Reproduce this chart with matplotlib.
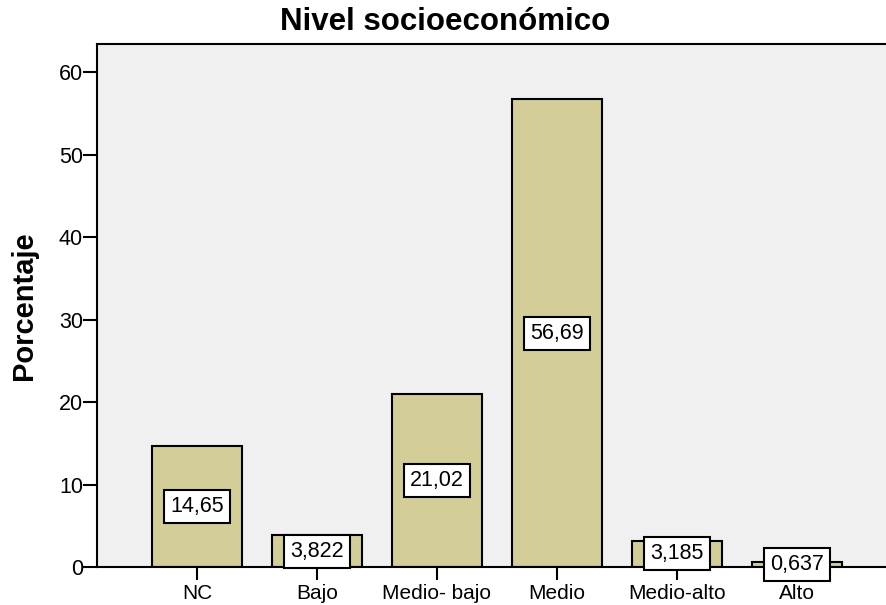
import matplotlib.pyplot as plt

plt.rcParams['font.family'] = ['Liberation Sans', 'DejaVu Sans']

categorias = ["NC", "Bajo", "Medio- bajo", "Medio", "Medio-alto", "Alto"]
porcentajes = [14.65, 3.822, 21.02, 56.69, 3.185, 0.637]
etiquetas = ["14,65", "3,822", "21,02", "56,69", "3,185", "0,637"]

fig = plt.figure(figsize=(8.87, 6.05), dpi=100)
ax = fig.add_axes([97 / 887, 38 / 605, 1 - 97 / 887, 523 / 605])
ax.set_facecolor('#F0F0F0')

x = range(len(categorias))
ax.bar(x, porcentajes, width=0.75, color='#D3CE98', edgecolor='black', linewidth=1.5, zorder=2)

# value labels in boxes at bar middle
for i, (v, t) in enumerate(zip(porcentajes, etiquetas)):
    ax.text(i, v / 2, t, ha='center', va='center', fontsize=15.5, zorder=3, clip_on=False,
            bbox=dict(boxstyle='square,pad=0.28', facecolor='white', edgecolor='black', linewidth=1.5))

ax.set_xlim(-0.833, 5.75)
ax.set_ylim(0, 63.4)
ax.set_xticks(list(x))
ax.set_xticklabels(categorias, fontsize=15)
ax.set_yticks(range(0, 61, 10))
ax.tick_params(axis='y', labelsize=15.5, length=10, width=1.5, pad=0)
ax.tick_params(axis='x', length=9, width=1.5, pad=3)

for s in ['left', 'bottom', 'top']:
    ax.spines[s].set_linewidth(1.5)
ax.spines['right'].set_visible(False)

ax.set_ylabel("Porcentaje", fontsize=21, fontweight='bold', labelpad=15)
fig.text(445 / 887, 1 - 22 / 605, "Nivel socioeconómico", ha='center', va='center',
         fontsize=22.5, fontweight='bold')

fig.savefig("out.png", dpi=100)
